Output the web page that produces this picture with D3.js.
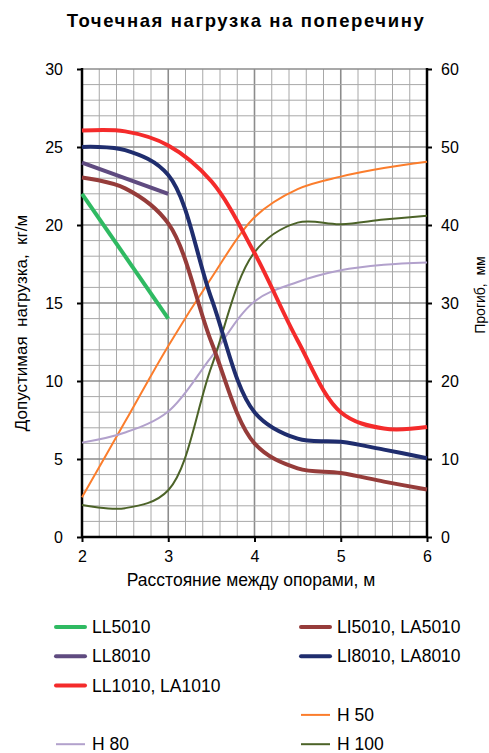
<!DOCTYPE html>
<html>
<head>
<meta charset="utf-8">
<script src="https://cdn.jsdelivr.net/npm/d3@7"></script>
<style>
    body { margin: 0; background: #fff; }
    text { font-family: "Liberation Sans", Arial, sans-serif; fill: #000; }
</style>
</head>
<body>
<svg width="489" height="753"></svg>
<script>
// distances, m
const xs = [2, 2.5, 3, 3.5, 4, 4.5, 5, 5.5, 6];
const xsShort = [2, 3];

// load, kg/m (left axis)
const ll5010 = [22, 14];
const ll8010 = [24, 22];
const li5010 = [23.05, 22.35, 20.1, 12.5, 6.0, 4.4, 4.1, 3.55, 3.05];
const li8010 = [25.0, 24.8, 23.2, 15.3, 8.0, 6.3, 6.1, 5.6, 5.05];
const ll1010 = [26.05, 26.0, 25.1, 22.8, 18.2, 12.6, 8.0, 6.95, 7.05];

// deflection, mm (right axis)
const h50 = [5.1, 14.8, 24.5, 33.2, 41.0, 44.6, 46.2, 47.3, 48.1];
const h80 = [12.1, 13.4, 16.1, 23.1, 30.2, 32.7, 34.2, 34.9, 35.2];
const h100 = [4.1, 3.7, 6.0, 21.8, 36.5, 40.3, 40.1, 40.7, 41.2];

const xTicks = [2, 3, 4, 5, 6];
const yLeftTicks = [0, 5, 10, 15, 20, 25, 30];
const yRightTicks = [0, 10, 20, 30, 40, 50, 60];

const series = [
    { name: "LL5010", x: xsShort, y: ll5010, axis: "left", color: "#2fba62", w: 4 },
    { name: "LL8010", x: xsShort, y: ll8010, axis: "left", color: "#5f4b80", w: 4 },
    { name: "LI5010, LA5010", x: xs, y: li5010, axis: "left", color: "#963c3a", w: 4 },
    { name: "LI8010, LA8010", x: xs, y: li8010, axis: "left", color: "#1f2d6e", w: 4 },
    { name: "LL1010, LA1010", x: xs, y: ll1010, axis: "left", color: "#f42b2b", w: 4 },
    { name: "H 50", x: xs, y: h50, axis: "right", color: "#fb7d2c", w: 2 },
    { name: "H 80", x: xs, y: h80, axis: "right", color: "#b2a1cc", w: 2 },
    { name: "H 100", x: xs, y: h100, axis: "right", color: "#4c6328", w: 2 },
];

// legend order as Excel placed it (two columns, null = empty slot)
const legendOrder = ["LL5010", "LI5010, LA5010", "LL8010", "LI8010, LA8010", "LL1010, LA1010", null, null, "H 50", "H 80", "H 100"];

const svg = d3.select("svg");
const m = { left: 82, right: 427, top: 69, bottom: 537 };

const x = d3.scaleLinear().domain([2, 6]).range([m.left, m.right]);
const yL = d3.scaleLinear().domain([0, 30]).range([m.bottom, m.top]);
const yR = d3.scaleLinear().domain([0, 60]).range([m.bottom, m.top]);

// grid
const grid = svg.append("g");
grid.selectAll("line.vx")
    .data(d3.range(2, 6.001, 0.2))
    .enter()
    .append("line")
    .attr("x1", (d) => x(d))
    .attr("x2", (d) => x(d))
    .attr("y1", m.top)
    .attr("y2", m.bottom)
    .attr("stroke", (d, i) => (i % 5 === 0 ? "#8c8c8c" : "#a8a8a8"))
    .attr("stroke-width", (d, i) => (i % 5 === 0 ? 1.6 : 1));
grid.selectAll("line.hy")
    .data(d3.range(0, 31, 1))
    .enter()
    .append("line")
    .attr("x1", m.left)
    .attr("x2", m.right)
    .attr("y1", (d) => yL(d))
    .attr("y2", (d) => yL(d))
    .attr("stroke", (d) => (d % 5 === 0 ? "#8c8c8c" : "#a8a8a8"))
    .attr("stroke-width", (d) => (d % 5 === 0 ? 1.6 : 1));

// axes
const axL = svg.append("g")
    .attr("transform", `translate(${m.left},0)`)
    .call(d3.axisLeft(yL).tickValues(yLeftTicks).tickSize(5).tickPadding(14));
const axR = svg.append("g")
    .attr("transform", `translate(${m.right},0)`)
    .call(d3.axisRight(yR).tickValues(yRightTicks).tickSize(5).tickPadding(9));
const axB = svg.append("g")
    .attr("transform", `translate(0,${m.bottom})`)
    .call(d3.axisBottom(x).tickValues(xTicks).tickFormat(d3.format("d")).tickSize(5).tickPadding(9));

[axL, axR, axB].forEach((a) => {
    a.select(".domain").attr("stroke", "#000").attr("stroke-width", 2.5);
    a.selectAll(".tick line").attr("stroke", "#000").attr("stroke-width", 2);
    a.selectAll(".tick text").attr("font-size", 16).attr("font-family", "Liberation Sans, Arial, sans-serif");
});
axL.select(".domain").attr("d", `M0,${m.top - 1}V${m.bottom + 1}`);
axR.select(".domain").attr("d", `M0,${m.top - 1}V${m.bottom + 1}`);
axB.select(".domain").attr("d", `M${m.left},0H${m.right}`);

// lines
const line = (s) => {
    const ys = s.axis === "left" ? yL : yR;
    return d3.line()
        .x((d) => x(d[0]))
        .y((d) => ys(d[1]))
        .curve(s.x.length > 2 ? d3.curveCatmullRom.alpha(0.5) : d3.curveLinear)(d3.zip(s.x, s.y));
};

// thin H lines first, thick ones on top
const drawOrder = ["H 50", "H 80", "H 100", "LL5010", "LL8010", "LI5010, LA5010", "LI8010, LA8010", "LL1010, LA1010"];
svg.append("g")
    .selectAll("path")
    .data(drawOrder.map((n) => series.find((s) => s.name === n)))
    .enter()
    .append("path")
    .attr("d", (d) => line(d))
    .attr("fill", "none")
    .attr("stroke", (d) => d.color)
    .attr("stroke-width", (d) => d.w)
    .attr("stroke-linejoin", "round");

// titles
svg.append("text")
    .attr("x", 246)
    .attr("y", 27)
    .attr("text-anchor", "middle")
    .attr("font-family", "DejaVu Sans, Verdana, sans-serif")
    .attr("font-weight", "bold")
    .attr("font-size", 18.5)
    .attr("letter-spacing", 1.6)
    .text("Точечная нагрузка на поперечину");

svg.append("text")
    .attr("x", 251)
    .attr("y", 586)
    .attr("text-anchor", "middle")
    .attr("font-size", 17.5)
    .text("Расстояние между опорами, м");

svg.append("text")
    .attr("transform", "translate(27,323) rotate(-90)")
    .attr("text-anchor", "middle")
    .attr("font-size", 17)
    .attr("xml:space", "preserve")
    .text("Допустимая  нагрузка,  кг/м");

svg.append("text")
    .attr("transform", "translate(485,295) rotate(-90)")
    .attr("text-anchor", "middle")
    .attr("font-size", 14)
    .attr("xml:space", "preserve")
    .text("Прогиб,  мм");

// legend
const legend = svg.append("g");
legendOrder.forEach((name, i) => {
    if (!name) return;
    const s = series.find((d) => d.name === name);
    const col = i % 2, row = Math.floor(i / 2);
    const lx = col === 0 ? 55 : 300;
    const ly = 627 + row * 29.3;
    const g = legend.append("g").attr("transform", `translate(${lx},${ly})`);
    g.append("line")
        .attr("x1", 1)
        .attr("x2", 30)
        .attr("y1", 0)
        .attr("y2", 0)
        .attr("stroke", s.color)
        .attr("stroke-width", s.w)
        .attr("stroke-linecap", s.w > 2 ? "round" : "butt");
    g.append("text")
        .attr("x", 37)
        .attr("y", 6)
        .attr("font-size", 17.5)
        .text(name);
});
</script>
</body>
</html>
